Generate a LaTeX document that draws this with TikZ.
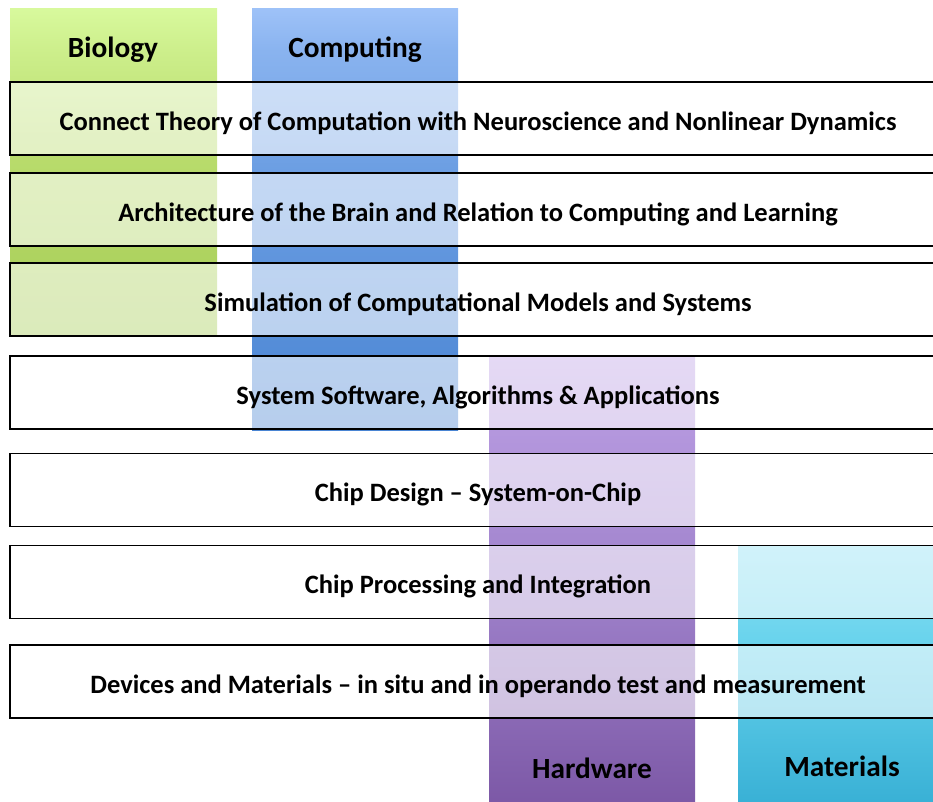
\documentclass[tikz,border=0pt]{standalone}
\usepackage{fontspec}
\setmainfont{Carlito}
\definecolor{bioT}{HTML}{D8F99D}
\definecolor{bioM}{HTML}{BADD6E}
\definecolor{bioB}{HTML}{A6CC56}
\definecolor{comT}{HTML}{9EC2F8}
\definecolor{comM}{HTML}{6A9DE2}
\definecolor{comB}{HTML}{4A85D3}
\definecolor{hwT}{HTML}{BEA1E6}
\definecolor{hwM}{HTML}{A083CC}
\definecolor{hwB}{HTML}{7C58A6}
\definecolor{maT}{HTML}{8CE1F4}
\definecolor{maM}{HTML}{66D2EC}
\definecolor{maB}{HTML}{38B0D5}
\pgfdeclareverticalshading{bioshade}{100bp}{color(0bp)=(bioB); color(25bp)=(bioB); color(55bp)=(bioM); color(68bp)=(bioT!60!bioM); color(75bp)=(bioT); color(100bp)=(bioT)}
\pgfdeclareverticalshading{comshade}{100bp}{color(0bp)=(comB); color(25bp)=(comB); color(55bp)=(comM); color(70bp)=(comT!60!comM); color(75bp)=(comT); color(100bp)=(comT)}
\pgfdeclareverticalshading{hwshade}{100bp}{color(0bp)=(hwB); color(25bp)=(hwB); color(50bp)=(hwM); color(75bp)=(hwT); color(100bp)=(hwT)}
\pgfdeclareverticalshading{mashade}{100bp}{color(0bp)=(maB); color(25bp)=(maB); color(55bp)=(maM); color(75bp)=(maT); color(100bp)=(maT)}
\tikzset{
  column/.style={draw=none, inner sep=0pt, outer sep=0pt, rectangle},
  rowbox/.style={draw=black, line width=1.7pt, fill=white, fill opacity=0.6, text opacity=1,
    minimum width=936pt, minimum height=73pt, inner sep=0pt, outer sep=0pt,
    text height=23.4pt, text depth=0pt,
    font=\bfseries\fontsize{26.5}{30}\selectfont},
  header/.style={font=\bfseries\fontsize{29.3}{33}\selectfont, inner sep=0pt, anchor=base},
}
\begin{document}
\begin{tikzpicture}[x=1pt,y=-1pt]
\useasboundingbox (0,0) rectangle (933,801);
% columns
\node[column, shading=bioshade, minimum width=207pt, minimum height=328pt] (bio) at (113.5,172) {};
\node[column, shading=comshade, minimum width=206pt, minimum height=422pt] (com) at (355,219) {};
\node[column, shading=hwshade, minimum width=206pt, minimum height=448pt] (hw) at (592,581) {};
\node[column, shading=mashade, minimum width=212pt, minimum height=260pt] (ma) at (844,675) {};
% headers
\node[header] (bioL) at (113,57.3) {Biology};
\node[header] (comL) at (355,57.3) {Computing};
\node[header] (hwL) at (592,778.3) {Hardware};
\node[header] (maL) at (842,776.7) {Materials};
% rows
\node[rowbox] (r1) at (478,118.5) {Connect Theory of Computation with Neuroscience and Nonlinear Dynamics};
\node[rowbox] (r2) at (478,209.5) {Architecture of the Brain and Relation to Computing and Learning};
\node[rowbox] (r3) at (478,299.5) {Simulation of Computational Models and Systems};
\node[rowbox] (r4) at (478,392.7) {System Software, Algorithms \& Applications};
\node[rowbox] (r5) at (478,490) {Chip Design – System-on-Chip};
\node[rowbox] (r6) at (478,582) {Chip Processing and Integration};
\node[rowbox] (r7) at (478,681.3) {Devices and Materials – in situ and in operando test and measurement};
\end{tikzpicture}
\end{document}
